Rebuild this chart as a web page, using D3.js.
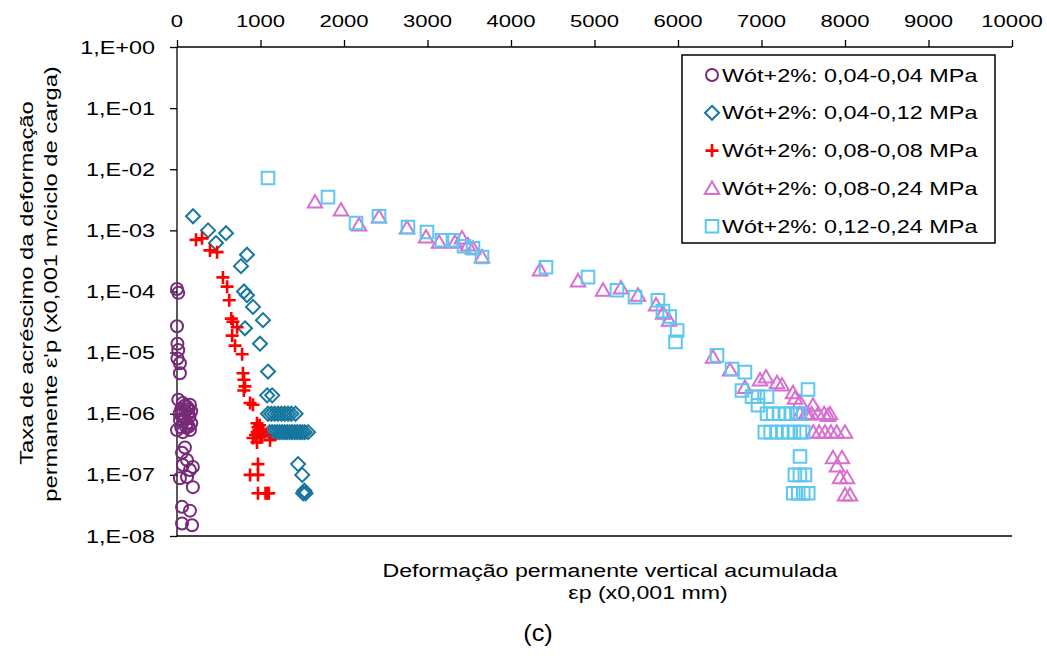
<!DOCTYPE html>
<html>
<head>
<meta charset="utf-8">
<script src="https://cdn.jsdelivr.net/npm/d3@7"></script>
<style>
  body { margin: 0; background: #fff; }
  svg text { font-family: "Liberation Sans", Arial, sans-serif; fill: #000; }
</style>
</head>
<body>
<div id="chart"></div>
<script>
// Series data: [deformação acumulada (x0,001 mm), taxa (x0,001 m/ciclo)]
var serie1 = [ // Wót+2%: 0,04-0,04 MPa
    [0, 1.1e-4], [15, 9.5e-5], [0, 2.7e-5], [5, 1.4e-5], [15, 1.1e-5], [5, 8e-6],
    [35, 6.7e-6], [35, 4.6e-6], [15, 1.7e-6], [70, 1.5e-6], [120, 1.3e-6], [155, 1.4e-6],
    [140, 1.2e-6], [60, 1.0e-6], [130, 1.0e-6], [100, 1.1e-6], [35, 7.9e-7], [120, 7e-7],
    [90, 8.5e-7], [150, 9e-7], [0, 5.4e-7], [70, 5e-7], [155, 5.4e-7], [110, 6e-7],
    [50, 1.2e-6], [90, 1.35e-6], [170, 1.1e-6], [30, 1e-6], [80, 7.5e-7], [170, 7e-7],
    [50, 6e-7], [140, 6.2e-7],
    [95, 2.8e-7], [60, 2.3e-7], [120, 1.75e-7], [190, 1.35e-7], [70, 1.45e-7], [155, 1.2e-7],
    [35, 8.8e-8], [120, 9.2e-8], [190, 6.3e-8], [60, 3e-8], [155, 2.6e-8], [60, 1.6e-8],
    [180, 1.5e-8]
];
var serie2 = [ // Wót+2%: 0,04-0,12 MPa
    [192, 1.7e-3], [372, 1.0e-3], [587, 9e-4], [467, 6.2e-4], [838, 4e-4], [766, 2.6e-4],
    [802, 1.0e-4], [838, 8.7e-5], [910, 5.6e-5], [1030, 3.4e-5], [814, 2.5e-5], [994, 1.4e-5],
    [1090, 4.9e-6], [1080, 2e-6], [1140, 2e-6],
    [1090, 1e-6], [1130, 1e-6], [1170, 1e-6], [1210, 1e-6], [1250, 1e-6], [1290, 1e-6],
    [1330, 1e-6], [1370, 1e-6], [1420, 1e-6],
    [1110, 5e-7], [1140, 5e-7], [1170, 5e-7], [1200, 5e-7], [1230, 5e-7], [1260, 5e-7],
    [1290, 5e-7], [1320, 5e-7], [1350, 5e-7], [1380, 5e-7], [1410, 5e-7], [1440, 5e-7],
    [1470, 5e-7], [1500, 5e-7], [1530, 5e-7], [1570, 5e-7],
    [1450, 1.5e-7], [1500, 1e-7], [1510, 5e-8], [1525, 5.5e-8], [1540, 5e-8]
];
var serie3 = [ // Wót+2%: 0,08-0,08 MPa
    [228, 7e-4], [300, 7.4e-4], [395, 4.7e-4], [480, 4.4e-4], [550, 1.7e-4], [600, 1.2e-4],
    [625, 7.2e-5], [650, 3.6e-5], [670, 3.2e-5], [720, 2.6e-5], [660, 1.9e-5], [695, 1.3e-5],
    [780, 9.4e-6], [790, 4.6e-6], [802, 3.6e-6], [814, 2.8e-6], [800, 2.4e-6], [875, 1.5e-6],
    [910, 1.4e-6], [958, 7e-7], [970, 6e-7], [980, 5.4e-7], [1000, 5.5e-7], [1010, 5e-7],
    [990, 6.5e-7], [1020, 4.5e-7], [940, 4.5e-7],
    [960, 5e-7], [910, 4e-7], [994, 4.1e-7], [1114, 3.7e-7], [958, 3.4e-7], [970, 1.5e-7],
    [875, 1e-7], [970, 1e-7], [970, 5e-8], [1060, 5e-8], [1080, 5e-8], [1100, 5e-8]
];
var serie4 = [ // Wót+2%: 0,08-0,24 MPa
    [1653, 2.9e-3], [1964, 2.15e-3], [2180, 1.22e-3], [2419, 1.65e-3], [2754, 1.09e-3],
    [2982, 7.8e-4], [3138, 6.4e-4], [3329, 6.4e-4], [3413, 7.5e-4], [3485, 5.75e-4],
    [3545, 5.1e-4], [3653, 3.66e-4], [4347, 2.24e-4], [4802, 1.48e-4], [5102, 1.05e-4],
    [5317, 1.14e-4], [5521, 8.7e-5], [5737, 6e-5], [5820, 4.4e-5], [5892, 3.4e-5],
    [6419, 8.4e-6], [6623, 5.2e-6], [6802, 2.7e-6], [6982, 3.55e-6], [7054, 4e-6],
    [7186, 3.2e-6], [7245, 2.95e-6], [7377, 2.2e-6], [7401, 1.8e-6], [7461, 1.55e-6],
    [7617, 1.38e-6], [7557, 1.0e-6], [7796, 9.4e-7],
    [7460, 1e-6], [7530, 1e-6], [7600, 1e-6], [7680, 1e-6], [7750, 1e-6], [7820, 1e-6],
    [7620, 5e-7], [7690, 5e-7], [7760, 5e-7], [7830, 5e-7], [7900, 5e-7], [8000, 5e-7],
    [7856, 1.9e-7], [7964, 1.9e-7], [7904, 1.4e-7], [7940, 9e-8], [8024, 9e-8],
    [8000, 4.7e-8], [8060, 4.7e-8]
];
var serie5 = [ // Wót+2%: 0,12-0,24 MPa
    [1090, 7.2e-3], [1808, 3.5e-3], [2144, 1.32e-3], [2419, 1.7e-3], [2766, 1.13e-3],
    [2994, 9.4e-4], [3174, 6.9e-4], [3305, 6.9e-4], [3437, 5.5e-4], [3545, 5.1e-4],
    [3653, 3.66e-4], [4419, 2.5e-4], [4922, 1.72e-4], [5269, 1.05e-4], [5485, 8.1e-5],
    [5760, 7.2e-5], [5820, 4.8e-5], [5900, 3.9e-5], [5990, 2.3e-5], [5970, 1.5e-5],
    [6467, 9e-6], [6647, 5.4e-6], [6802, 4.8e-6], [6766, 2.4e-6], [6886, 1.9e-6],
    [6958, 1.9e-6], [7066, 1.9e-6], [6958, 1.38e-6], [7557, 2.5e-6],
    [7066, 1e-6], [7140, 1e-6], [7210, 1e-6], [7280, 1e-6], [7350, 1e-6], [7420, 1e-6], [7460, 1e-6],
    [7040, 5e-7], [7110, 5e-7], [7180, 5e-7], [7250, 5e-7], [7320, 5e-7], [7390, 5e-7],
    [7460, 5e-7], [7500, 5e-7],
    [7461, 2e-7], [7400, 1e-7], [7460, 1e-7], [7520, 1e-7],
    [7380, 5e-8], [7440, 5e-8], [7500, 5e-8], [7560, 5e-8]
];

var seriesNames = [
    'Wót+2%: 0,04-0,04 MPa',
    'Wót+2%: 0,04-0,12 MPa',
    'Wót+2%: 0,08-0,08 MPa',
    'Wót+2%: 0,08-0,24 MPa',
    'Wót+2%: 0,12-0,24 MPa'
];
var seriesColors = ['#772a77', '#17769e', '#ff0000', '#d86fd0', '#5cc8f0'];
var seriesShapes = ['circle', 'diamond', 'cross', 'triangle', 'square'];
var seriesData = [serie1, serie2, serie3, serie4, serie5];

var xTicks = [0, 1000, 2000, 3000, 4000, 5000, 6000, 7000, 8000, 9000, 10000];
var yTicks = [1, 1e-1, 1e-2, 1e-3, 1e-4, 1e-5, 1e-6, 1e-7, 1e-8];
var yTickLabels = ['1,E+00', '1,E-01', '1,E-02', '1,E-03', '1,E-04', '1,E-05', '1,E-06', '1,E-07', '1,E-08'];

var chartW = 1047, chartH = 657;
var plotLeft = 177, plotRight = 1012, plotTop = 47, plotBottom = 536;
var SX = 1.3; // glyphs in the reference are drawn wide

var svg = d3.select('#chart').append('svg')
    .attr('width', chartW)
    .attr('height', chartH);

var x = d3.scaleLinear().domain([0, 10000]).range([plotLeft, plotRight]);
var y = d3.scaleLog().domain([1, 1e-8]).range([plotTop, plotBottom]);

function addText(g, px, py, s, anchor, size, rotate, sx) {
    var tr = 'translate(' + px + ',' + py + ')' + (rotate ? ' rotate(-90)' : '') +
        ' scale(' + (sx || SX) + ',1)';
    return g.append('text')
        .attr('transform', tr)
        .attr('text-anchor', anchor)
        .style('font-size', size + 'px')
        .text(s);
}

// marker path around (0,0)
function markerPath(shape) {
    if (shape === 'diamond') return 'M0,-7L7,0L0,7L-7,0Z';
    if (shape === 'square') return 'M-6.3,-6.3H6.3V6.3H-6.3Z';
    if (shape === 'triangle') return 'M0,-7L7.2,5.5H-7.2Z';
    if (shape === 'cross') return 'M-6.5,0H6.5M0,-6.5V6.5';
    return null;
}

function drawMarker(g, shape, color) {
    if (shape === 'circle') {
        g.append('circle').attr('r', 6)
            .attr('fill', 'none').attr('stroke', color).attr('stroke-width', 2);
    } else {
        g.append('path').attr('d', markerPath(shape))
            .attr('fill', 'none').attr('stroke', color)
            .attr('stroke-width', shape === 'cross' ? 2.6 : 2);
    }
}

// axes
var xAxis = d3.axisTop(x).tickValues(xTicks).tickSize(7).tickFormat('');
var gx = svg.append('g').attr('transform', 'translate(0,' + plotTop + ')').call(xAxis);
gx.select('.domain').attr('d', 'M' + plotLeft + ',0H' + plotRight).attr('stroke', '#000').attr('stroke-width', 1.3);
gx.selectAll('.tick line').attr('stroke', '#000').attr('stroke-width', 1.3);
xTicks.forEach(function(t) {
    addText(svg, x(t), 27, String(t), 'middle', 17);
});

var yAxis = d3.axisLeft(y).tickValues(yTicks).tickSize(7).tickFormat('');
var gy = svg.append('g').attr('transform', 'translate(' + plotLeft + ',0)').call(yAxis);
gy.select('.domain').attr('d', 'M0,' + plotTop + 'V' + plotBottom).attr('stroke', '#000').attr('stroke-width', 1.3);
gy.selectAll('.tick line').attr('stroke', '#000').attr('stroke-width', 1.3);
yTicks.forEach(function(t, i) {
    addText(svg, 155, y(t) + 6.5, yTickLabels[i], 'end', 18);
});

// bottom line
svg.append('line')
    .attr('x1', plotLeft).attr('x2', plotRight)
    .attr('y1', plotBottom).attr('y2', plotBottom)
    .attr('stroke', '#000').attr('stroke-width', 1.3);

// points
seriesData.forEach(function(data, si) {
    var g = svg.append('g').attr('class', 'serie-' + si);
    g.selectAll('g.pt')
        .data(data)
        .enter()
        .append('g')
        .attr('class', 'pt')
        .attr('transform', function(d) { return 'translate(' + x(d[0]) + ',' + y(d[1]) + ')'; })
        .each(function() {
            drawMarker(d3.select(this), seriesShapes[si], seriesColors[si]);
        });
});

// legend
var lg = svg.append('g');
lg.append('rect')
    .attr('x', 682).attr('y', 55)
    .attr('width', 313).attr('height', 188)
    .attr('fill', '#fff').attr('stroke', '#000').attr('stroke-width', 1.5);
seriesNames.forEach(function(name, i) {
    var cy = 75 + i * 37.8;
    var mg = lg.append('g').attr('transform', 'translate(712,' + cy + ')');
    drawMarker(mg, seriesShapes[i], seriesColors[i]);
    addText(lg, 722, cy + 6.5, name, 'start', 18);
});

// axis titles
addText(svg, 610, 577, 'Deformação permanente vertical acumulada', 'middle', 17.8);
addText(svg, 648, 599, 'εp (x0,001 mm)', 'middle', 17.8);
addText(svg, 538, 641, '(c)', 'middle', 23, false, 1.1);

addText(svg, 33, 283, 'Taxa de acréscimo da deformação', 'middle', 18.3, true);
addText(svg, 57, 284, 'permanente ε\'p  (x0,001 m/ciclo de carga)', 'middle', 18.3, true);
</script>
</body>
</html>
